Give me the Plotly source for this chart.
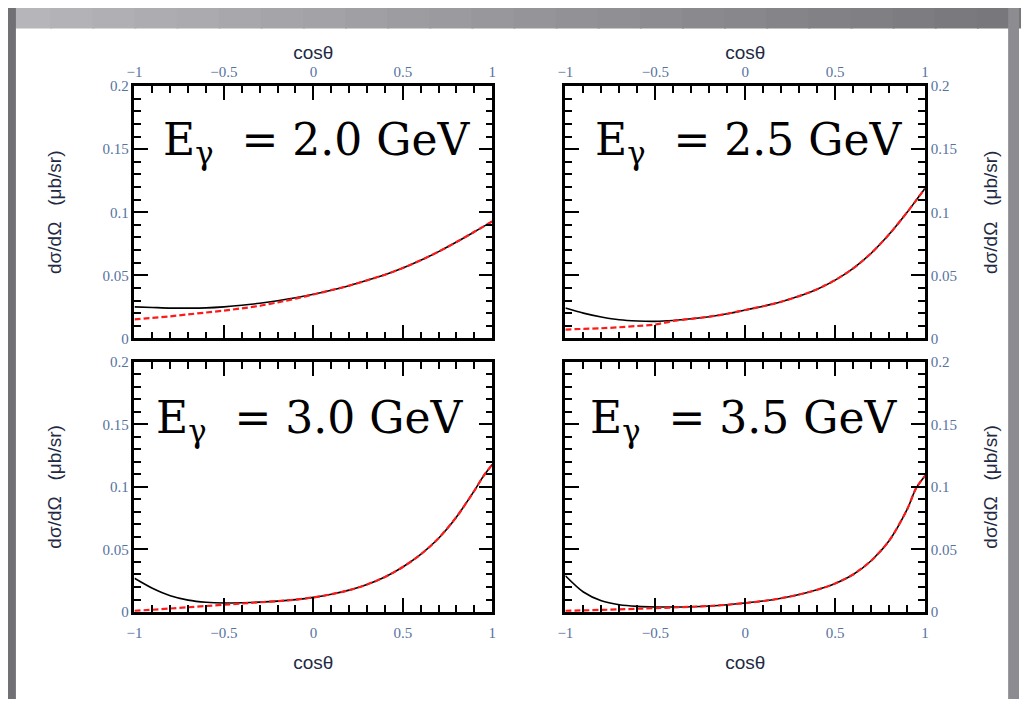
import plotly.graph_objects as go

# ---------------- data ----------------
cos_theta = [-1.0, -0.9, -0.8, -0.7, -0.6, -0.5, -0.4, -0.3, -0.2, -0.1, 0.0,
             0.1, 0.2, 0.3, 0.4, 0.5, 0.6, 0.7, 0.8, 0.9, 0.95, 1.0]

energies = ["2.0", "2.5", "3.0", "3.5"]

black_20 = [0.025, 0.0245, 0.024, 0.024, 0.0242, 0.025, 0.0262, 0.0278, 0.0298, 0.0322, 0.035,
            0.0382, 0.0418, 0.046, 0.0505, 0.0558, 0.0619, 0.0688, 0.0764, 0.0845, 0.0886, 0.0928]
red_20 = [0.015, 0.0162, 0.0175, 0.019, 0.0205, 0.022, 0.0238, 0.0258, 0.0285, 0.0315, 0.0348,
          0.0382, 0.0418, 0.046, 0.0505, 0.0558, 0.0619, 0.0688, 0.0764, 0.0845, 0.0886, 0.0928]

black_25 = [0.024, 0.020, 0.017, 0.0148, 0.0138, 0.0135, 0.0142, 0.0155, 0.0172, 0.0195, 0.0225,
            0.0255, 0.029, 0.0335, 0.039, 0.0462, 0.0555, 0.0675, 0.0825, 0.100, 0.1095, 0.119]
red_25 = [0.007, 0.0075, 0.008, 0.0088, 0.0098, 0.011, 0.0138, 0.0155, 0.0172, 0.0195, 0.0225,
          0.0255, 0.029, 0.0335, 0.039, 0.0462, 0.0555, 0.0675, 0.0825, 0.100, 0.1095, 0.119]

black_30 = [0.027, 0.019, 0.013, 0.0095, 0.0078, 0.0072, 0.0074, 0.0079, 0.0087, 0.0099, 0.0117,
            0.0142, 0.0175, 0.022, 0.028, 0.036, 0.046, 0.059, 0.076, 0.097, 0.1085, 0.118]
red_30 = [0.001, 0.0018, 0.0028, 0.0038, 0.0048, 0.0058, 0.0068, 0.0078, 0.0087, 0.0099, 0.0117,
          0.0142, 0.0175, 0.022, 0.028, 0.036, 0.046, 0.059, 0.076, 0.097, 0.1085, 0.118]

black_35 = [0.029, 0.016, 0.009, 0.0058, 0.0045, 0.0040, 0.0040, 0.0042, 0.0048, 0.0058, 0.0072,
            0.0088, 0.0110, 0.0140, 0.0178, 0.0228, 0.030, 0.041, 0.057, 0.082, 0.099, 0.109]
red_35 = [0.001, 0.0013, 0.0017, 0.0021, 0.0026, 0.0031, 0.0036, 0.0042, 0.0048, 0.0058, 0.0072,
          0.0088, 0.0110, 0.0140, 0.0178, 0.0228, 0.030, 0.041, 0.057, 0.082, 0.099, 0.109]

x_tickvals = [-1, -0.5, 0, 0.5, 1]
x_ticktext = ["\u22121", "\u22120.5", "0", "0.5", "1"]
y_tickvals = [0, 0.05, 0.1, 0.15, 0.2]
y_ticktext = ["0", "0.05", "0.1", "0.15", "0.2"]

x_title = "cos\u03b8"
y_title = "d\u03c3/d\u03a9\u00a0\u00a0\u00a0(\u03bcb/sr)"

# ---------------- figure ----------------
W, H = 1023, 707
series = [(black_20, red_20), (black_25, red_25), (black_30, red_30), (black_35, red_35)]

# panel pixel boxes: (left, right, top, bottom)
boxes = [(128, 490, 80, 338), (564, 928, 80, 338), (128, 490, 362, 618), (564, 928, 362, 618)]
label_pos = [(0.019, 0.155), (0.022, 0.155), (-0.019, 0.153), (-0.005, 0.153)]

tick_color = "#56729f"
title_color = "#1f2a44"

fig = go.Figure()
layout = dict(
    width=W, height=H,
    margin=dict(l=0, r=0, t=0, b=0),
    paper_bgcolor="white", plot_bgcolor="white",
    showlegend=False,
    annotations=[], shapes=[],
)

for i, ((blk, red), box, e) in enumerate(zip(series, boxes, energies)):
    n = "" if i == 0 else str(i + 1)
    xa, ya = "x" + n, "y" + n
    fig.add_trace(go.Scatter(x=cos_theta, y=blk, mode="lines", xaxis=xa, yaxis=ya,
                             line=dict(color="black", width=1.6, shape="spline", smoothing=0.8)))
    fig.add_trace(go.Scatter(x=cos_theta, y=red, mode="lines", xaxis=xa, yaxis=ya,
                             line=dict(color="#ff1a1a", width=2.2, dash="6px,3px",
                                       shape="spline", smoothing=0.8)))
    l, r, t, b = box
    top = i < 2
    left = i % 2 == 0
    axis_common = dict(
        showline=True, linecolor="black", linewidth=2.5, mirror="allticks",
        ticks="inside", ticklen=14, tickwidth=2.2, tickcolor="black",
        showgrid=False, zeroline=False,
        tickfont=dict(family="Liberation Serif", size=15, color=tick_color),
        title_font=dict(family="Liberation Sans", size=19, color=title_color),
    )
    layout["xaxis" + n] = dict(
        axis_common,
        domain=[l / W, r / W], anchor=ya, side="top" if top else "bottom",
        range=[-1, 1], tickvals=x_tickvals, ticktext=x_ticktext,
        ticklabelstandoff=0 if top else 5,
        minor=dict(ticks="inside", ticklen=7, tickwidth=2, tickcolor="black", dtick=0.1, tick0=0),
        title=dict(text=x_title, standoff=0 if top else 16),
    )
    layout["yaxis" + n] = dict(
        axis_common,
        domain=[1 - b / H, 1 - t / H], anchor=xa, side="left" if left else "right",
        range=[0, 0.2], tickvals=y_tickvals, ticktext=y_ticktext,
        minor=dict(ticks="inside", ticklen=7, tickwidth=2, tickcolor="black", dtick=0.01, tick0=0),
        title=dict(text=y_title, standoff=36 if left else 28),
    )
    lx, ly = label_pos[i]
    layout["annotations"].append(dict(
        x=lx, y=ly, xref=xa, yref=ya, xanchor="center", yanchor="middle",
        text="E<sub>\u03b3</sub>\u00a0\u00a0=\u00a0" + e + "\u00a0GeV",
        showarrow=False,
        font=dict(family="DejaVu Serif", size=44, color="black"),
    ))

# gray frame around the slide
shapes = layout["shapes"]
nseg = 24
for k in range(nseg):
    v = int(182 - 62 * k / (nseg - 1))
    g = "rgb(%d,%d,%d)" % (v, v, v + 4)
    shapes.append(dict(type="rect", xref="paper", yref="paper", layer="below",
                       x0=k / nseg, x1=(k + 1) / nseg + 0.002, y0=1 - 21 / H, y1=1,
                       fillcolor=g, line=dict(width=0)))
shapes.append(dict(type="rect", xref="paper", yref="paper", layer="below",
                   x0=0, x1=8 / W, y0=0, y1=1, fillcolor="#707075", line=dict(width=0)))
shapes.append(dict(type="rect", xref="paper", yref="paper", layer="below",
                   x0=1 - 11 / W, x1=1, y0=0, y1=1, fillcolor="#8c8c91", line=dict(width=0)))

fig.update_layout(**layout)
fig.write_html("out.html")
